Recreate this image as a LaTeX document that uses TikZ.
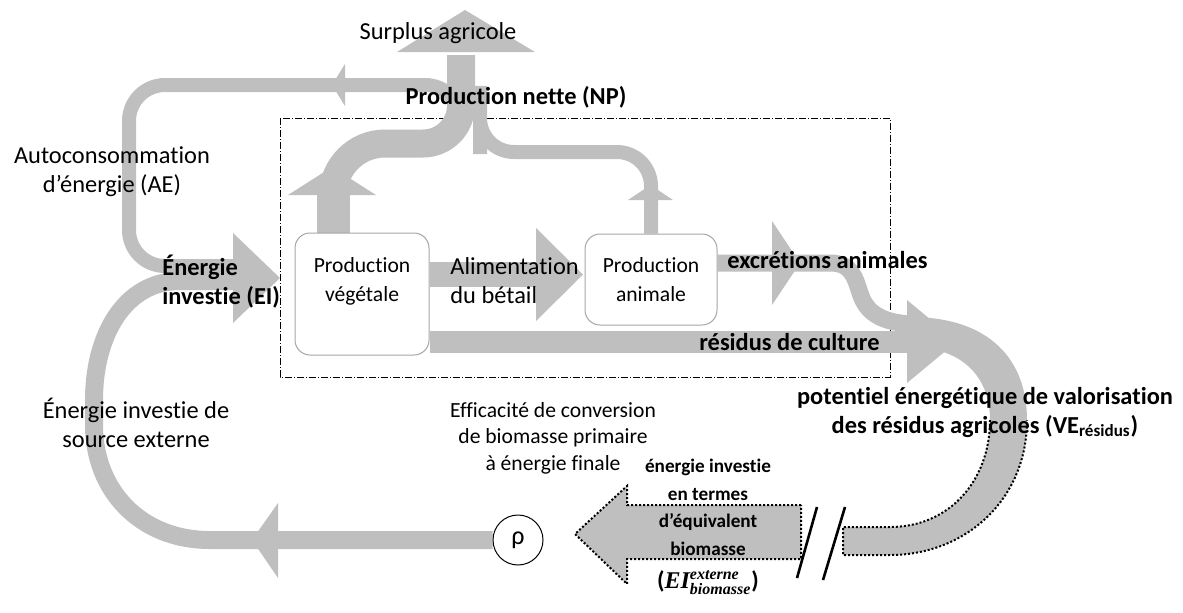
\documentclass[tikz,border=0pt]{standalone}
\usepackage{amsmath}
\usepackage{fontspec}
\setmainfont{Carlito}[Ligatures=NoCommon]
\newfontfamily\eifont{Liberation Serif}
\newcommand{\eibf}[1]{\text{\eifont\bfseries\itshape #1}}
\usetikzlibrary{positioning,calc,backgrounds}

\definecolor{flowgray}{RGB}{191,191,191}
\definecolor{boxline}{RGB}{166,166,166}

\begin{document}
\begin{tikzpicture}[x=0.5pt, y=-0.5pt,
  band/.style={draw=flowgray, line width=#1},
  head/.style={fill=flowgray, draw=none},
  box/.style={draw=boxline, line width=0.5pt, rounded corners=7.5pt, fill=white, align=center, inner sep=0pt, font=\fontsize{10.8}{14.5}\selectfont},
  txt/.style={align=center, inner sep=0pt, font=\fontsize{12.2}{14.5}\selectfont},
  btxt/.style={align=center, inner sep=0pt, font=\fontsize{12.2}{14.5}\selectfont\bfseries},
  dots/.style={draw=black, line width=1pt, dash pattern=on 1pt off 1pt},
  frame/.style={draw=black, line width=0.5pt, dash pattern=on 3.5pt off 1pt on 0.5pt off 1pt}
]
\useasboundingbox (0,0) rectangle (1183,612);

% boxes
\node[box, minimum width=67pt, minimum height=61pt] (veg) at (362,294) {Production\\végétale\\\mbox{}};
\node[box, minimum width=66pt, minimum height=45.5pt] (ani) at (651,279.5) {Production\\animale};
\node[circle, draw, line width=0.5pt, fill=white, minimum size=25pt, inner sep=0pt, font=\fontsize{13}{13}\selectfont] (rho) at (518,540) {ρ};

\begin{scope}[on background layer]
% system boundary
\draw[frame] (280,118) rectangle (890,377);

% external energy loop
\draw[band=9pt] (rho.west) -- (210,540) .. controls (140,540) and (94,490) .. (94,425) -- (94,400) .. controls (94,335) and (125,281) .. (180,281) -- (240,281);
\fill[head] (278,503) -- (252,540) -- (278,578) -- cycle;

% self-consumption loop
\draw[band=7pt, rounded corners=18pt] (461,112) -- (461,85) -- (129,85) -- (129,266) -- (240,266);
\fill[head] (345,64) -- (332,85) -- (345,106) -- cycle;
\fill[head] (233,233) -- (280,278) -- (233,323) -- cycle;

% net production
\draw[band=16.5pt] ($(veg.north)+(-29,0)$) -- (333,190);
\draw[band=14pt] (333,200) [rounded corners=26pt] -- (333,143.5) [rounded corners=19pt] -- (461,143.5) -- (461,55);
\fill[head] (288,195) -- (332,167) -- (376,195) -- cycle;
\fill[head] (397,52) -- (465,10) -- (535,52) -- cycle;
\draw[band=7pt, rounded corners=17pt] (ani.north) -- (651,152) -- (480,152) -- (480,120) .. controls (480,108) and (467,106) .. (467,92);
\fill[head] (628,200) -- (650.5,185) -- (673,200) -- cycle;

% feed, residues, excretions
\draw[band=12.5pt] ($(veg.east)+(0,-19.5)$) -- (537,274.5);
\fill[head] (536,228) -- (583,274.5) -- (536,321) -- cycle;
\draw[band=11pt] ($(veg.east)+(0,48)$) -- (908,342);
\fill[head] (907,300) -- (957,341.5) -- (907,383) -- cycle;
\draw[band=8.5pt] ($(ani.east)+(0,-16.5)$) -- (830,263) .. controls (852,263) and (855,278) .. (860,293) .. controls (866,312) and (880,322) .. (910,324);
\fill[head] (772,221) -- (800,263) -- (772,305) -- cycle;

% residue energy potential
\fill[flowgray] (900,317) -- (910,317) .. controls (990,317) and (1027,360) .. (1027,420) .. controls (1027,500) and (965,555) .. (890,555) -- (843,555) -- (843,527) -- (890,527) .. controls (950,527) and (990,480) .. (990,420) .. controls (990,375) and (960,347) .. (910,347) -- (900,347) -- cycle;
\draw[dots] (990,420) .. controls (990,480) and (950,527) .. (890,527) -- (843,527) -- (843,555) -- (890,555) .. controls (965,555) and (1027,500) .. (1027,420);
\filldraw[fill=flowgray, dots] (801,505) -- (627,505) -- (627,486) -- (575,534) -- (627,584) -- (627,559) -- (801,559) -- cycle;
\end{scope}

\draw[line width=1.3pt] (817,507) -- (797,578);
\draw[line width=1.3pt] (845,507) -- (823,580);

% labels
\node[txt] (surplus) at (438,33) {Surplus agricole};
\node[btxt] (np) at (516,97) {Production nette (NP)};
\node[txt] (ae) at (112,172) {Autoconsommation\\d’énergie (AE)};
\node[btxt, align=left, anchor=west] (ei) at (162,282) {Énergie\\investie (EI)};
\node[txt, align=left, anchor=west] (alim) at (450,281) {Alimentation\\du bétail};
\node[btxt, anchor=west] (excr) at (727,260) {excrétions animales};
\node[btxt, anchor=east] (resid) at (880,342) {résidus de culture};
\node[btxt] (ve) at (985,412) {potentiel énergétique de valorisation\\des résidus agricoles (VE\textsubscript{résidus})};
\node[txt] (ext) at (136,423) {Énergie investie de\\source externe};
\node[txt, font=\fontsize{10.8}{13.3}\selectfont] (eff) at (553,438) {Efficacité de conversion\\de biomasse primaire\\à énergie finale};
\node[btxt, font=\fontsize{9.6}{13.8}\selectfont\bfseries] (eib) at (708,527) {énergie investie\\en termes\\d’équivalent\\biomasse\\[3pt]{\fontsize{12}{12}\selectfont($\eibf{EI}^{\eibf{externe}}_{\eibf{biomasse}}$)}};
\end{tikzpicture}
\end{document}
